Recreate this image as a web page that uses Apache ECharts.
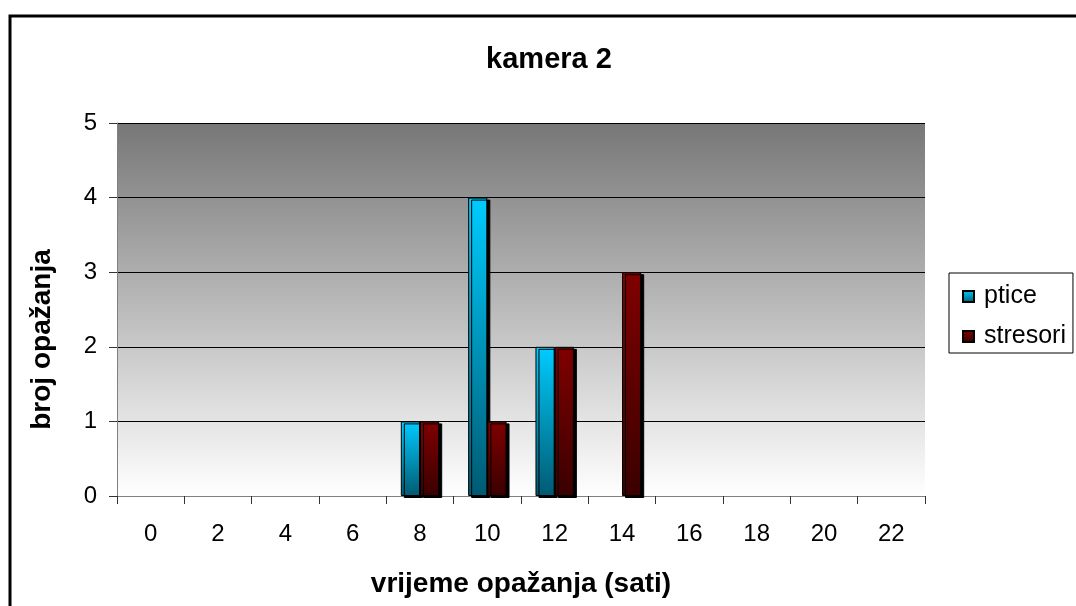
<!DOCTYPE html>
<html>
<head>
<meta charset="utf-8">
<script src="https://cdn.jsdelivr.net/npm/echarts@6/dist/echarts.min.js"></script>
<style>
  html, body { margin: 0; padding: 0; background: #fff; }
  #chart { width: 1076px; height: 606px; }
</style>
</head>
<body>
<div id="chart"></div>
<script>
// sati (kategorije)
const hours = ['0', '2', '4', '6', '8', '10', '12', '14', '16', '18', '20', '22']
const pticeData = [0, 0, 0, 0, 1, 4, 2, 0, 0, 0, 0, 0]
const stresoriData = [0, 0, 0, 0, 1, 1, 2, 3, 0, 0, 0, 0]

const font = 'Liberation Sans, Arial, sans-serif'

// nule se ne crtaju (inace se vidi sjena)
const noZero = arr => arr.map(v => v === 0 ? '-' : v)

const grad = (top, bottom) => new echarts.graphic.LinearGradient(0, 0, 0, 1, [
  { offset: 0, color: top },
  { offset: 1, color: bottom }
])

const barStyle = (top, bottom) => ({
  color: grad(top, bottom),
  borderColor: '#000',
  borderWidth: 1,
  shadowColor: '#000',
  shadowOffsetX: 3,
  shadowOffsetY: 2,
  shadowBlur: 0
})

const myChart = echarts.init(document.getElementById('chart'))

const option = {
  animation: false,
  backgroundColor: '#fff',
  title: {
    text: 'kamera 2',
    left: 544,
    top: 40,
    textAlign: 'center',
    textStyle: { fontFamily: font, fontSize: 29, fontWeight: 'bold', color: '#000' }
  },
  legend: {
    orient: 'vertical',
    left: 949,
    top: 273,
    padding: [11, 7, 4, 13],
    itemGap: 15,
    itemWidth: 11,
    itemHeight: 11,
    icon: 'rect',
    borderColor: '#000',
    borderWidth: 1,
    backgroundColor: '#fff',
    textStyle: { fontFamily: font, fontSize: 25, color: '#000', padding: [0, 0, 0, 5] },
    data: ['ptice', 'stresori']
  },
  grid: {
    left: 117,
    top: 123,
    width: 808,
    height: 373,
    show: true,
    borderWidth: 0,
    backgroundColor: grad('#777777', '#ffffff')
  },
  xAxis: {
    type: 'category',
    data: hours,
    name: 'vrijeme opažanja (sati)',
    nameLocation: 'middle',
    nameGap: 74,
    nameTextStyle: { fontFamily: font, fontSize: 28, fontWeight: 'bold', color: '#000' },
    axisLine: { lineStyle: { color: '#808080', width: 1 } },
    axisTick: { show: true, length: 8, lineStyle: { color: '#333' } },
    axisLabel: { fontFamily: font, fontSize: 24, color: '#000', margin: 26 },
    splitLine: { show: false }
  },
  yAxis: {
    type: 'value',
    min: 0,
    max: 5,
    interval: 1,
    name: 'broj opažanja',
    nameLocation: 'middle',
    nameGap: 61,
    nameRotate: 90,
    nameTextStyle: {
      fontFamily: font, fontSize: 28, fontWeight: 'bold', color: '#000',
      padding: [0, 60, 0, 0]
    },
    axisLine: { show: true, lineStyle: { color: '#808080', width: 1 } },
    axisTick: { show: true, length: 8, lineStyle: { color: '#333' } },
    axisLabel: { fontFamily: font, fontSize: 24, color: '#000', margin: 20 },
    splitLine: { show: true, lineStyle: { color: '#000', width: 1 } }
  },
  series: [
    {
      name: 'ptice',
      type: 'bar',
      data: noZero(pticeData),
      barGap: '0%',
      barCategoryGap: '43%',
      itemStyle: barStyle('#00ccff', '#005a72')
    },
    {
      name: 'stresori',
      type: 'bar',
      data: noZero(stresoriData),
      itemStyle: barStyle('#800000', '#3a0000')
    }
  ],
  graphic: [{
    type: 'rect',
    shape: { x: 10, y: 16, width: 1200, height: 800 },
    style: { fill: null, stroke: '#000', lineWidth: 3 },
    silent: true,
    z: 100
  }]
}

myChart.setOption(option)
</script>
</body>
</html>
